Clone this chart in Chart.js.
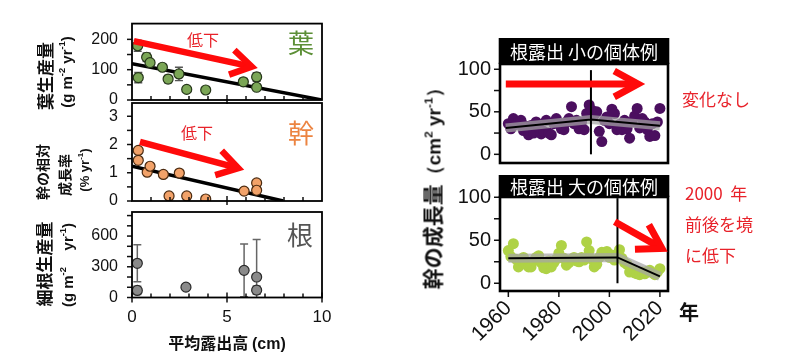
<!DOCTYPE html>
<html><head><meta charset="utf-8">
<script src="https://cdn.jsdelivr.net/npm/chart.js@4"></script>
<style>
body{margin:0;background:#fff;width:800px;height:356px;position:relative;overflow:hidden;font-family:"Liberation Sans",Arial,sans-serif;color:#111}
canvas{position:absolute;left:0;top:0}
.t{position:absolute;white-space:nowrap;transform:translate(0,-50%);color:#e8222a;font:17px "Noto Sans CJK JP";z-index:5}
.v{position:absolute;white-space:nowrap;transform:translate(-50%,-50%) rotate(-90deg);z-index:5;color:#111}
sup{font-size:62%;line-height:0;vertical-align:0.65em}
</style></head><body>
<div class="v" style="left:44px;top:76px;font:bold 17px 'Noto Sans CJK JP'">葉生産量</div>
<div class="v" style="left:66px;top:72px;font:bold 15px 'Liberation Sans'">(g m<sup>-2</sup> yr<sup>-1</sup>)</div>
<div class="v" style="left:42px;top:172px;font:bold 14px 'Noto Sans CJK JP'">幹の相対</div>
<div class="v" style="left:64px;top:175px;font:bold 14px 'Noto Sans CJK JP'">成長率</div>
<div class="v" style="left:84px;top:170px;font:bold 13px 'Liberation Sans'">(% yr<sup>-1</sup>)</div>
<div class="v" style="left:43px;top:264px;font:bold 17px 'Noto Sans CJK JP'">細根生産量</div>
<div class="v" style="left:67px;top:265px;font:bold 15px 'Liberation Sans'">(g m<sup>-2</sup>&nbsp;&nbsp;&nbsp;&nbsp;yr<sup>-1</sup>)</div>
<div style="position:absolute;left:227px;top:342px;transform:translate(-50%,-50%);font:bold 16px 'Noto Sans CJK JP';white-space:nowrap;z-index:5">平均露出高 <span style="font-family:'Liberation Sans'">(cm)</span></div>
<div class="v" style="left:432px;top:184px"><span style="font:bold 21px 'Noto Sans CJK JP'">幹の成長量</span><span style="font:bold 19px 'Liberation Sans'">（cm<sup>2</sup> yr<sup>-1</sup>）</span></div>
<div style="position:absolute;left:679px;top:311px;transform:translate(0,-50%);font:bold 20px 'Noto Sans CJK JP';z-index:5">年</div>
<div class="t" style="left:682px;top:98px">変化なし</div>
<div class="t" style="left:685px;top:192px">2000&nbsp;&nbsp;年</div>
<div class="t" style="left:685px;top:223px">前後を境</div>
<div class="t" style="left:685px;top:254px">に低下</div>
<script>
// ---------- data ----------
const leafX=[0.3,0.33,0.77,0.95,1.6,1.9,2.47,2.88,3.88,5.86,6.56,6.56];
const leafY=[179,74,141,123,108,69,86,35,33,60,76,42];
const leafErr=[18,17,14,6,8,12,22,0,0,11,14,5];
const leafFitX=[0,10];
const leafFitY=[120,0];
const trunkX=[0.33,0.33,0.8,0.95,1.65,1.95,2.49,2.88,3.88,5.9,6.56,6.56];
const trunkY=[1.79,1.44,1.02,1.23,0.94,0.18,0.99,0.18,0.07,0.35,0.64,0.38];
const trunkFitX=[0,7.96];
const trunkFitY=[1.23,0];
const rootX=[0.28,0.28,2.84,5.9,6.56,6.56];
const rootY=[334,69,101,265,200,72];
const rootErr=[180,40,0,258,366,40];
const leafTicks=[0,100,200];
const trunkTicks=[0,1,2,3];
const rootTicks=[0,300,600];
const heightTicks=[0,5,10];
const years=[1960,1961,1962,1963,1964,1965,1966,1967,1968,1969,
 1970,1971,1972,1973,1974,1975,1976,1977,1978,1979,
 1980,1981,1982,1983,1984,1985,1986,1987,1988,1989,
 1990,1991,1992,1993,1994,1995,1996,1997,1998,1999,
 2000,2001,2002,2003,2004,2005,2006,2007,2008,2009,
 2010,2011,2012,2013,2014,2015,2016,2017,2018,2019,2020];
const smallY=[36,30,42,35,38,40,28,33,23,34, 25,38,32,24,27,40,25,23,36,42,
 37,30,29,38,42,56,36,40,30,38, 29,48,58,52,46,50,27,15,40,44,
 36,53,48,29,35,29,40,30,19,38, 45,54,31,42,38,29,21,36,22,38, 54];
const largeY=[38,31,46,28,19,27,30,22,19,19, 26,30,32,24,18,17,26,19,24,28,
 35,44,29,21,24,28,30,26,25,30, 27,48,38,28,19,22,30,36,34,37,
 30,33,27,32,39,29,24,22,13,16, 12,11,10,13,11,14,15,12,10,13, 17];
const smallSegX=[1959,1992.7,2020];
const smallSegY=[31,41,33.6];
const smallBreak=1992.7;
const largeSegX=[1960,2003.2,2020];
const largeSegY=[29,30,8];
const largeBreak=2003.2;
const growthTicks=[0,50,100];
const yearTicks=[1960,1980,2000,2020];

// ---------- helpers ----------
const W=800,H=356;
const RED='#ff0a0a';
const decoPlugin={
  id:'deco',
  beforeDatasetsDraw(chart,args,o){
    const e=o.err; if(!e) return;
    const ctx=chart.ctx, xs=chart.scales.x, ys=chart.scales.y;
    ctx.save(); ctx.strokeStyle=e.color; ctx.lineWidth=e.lw;
    e.x.forEach((xv,i)=>{
      const d=e.e[i]; if(!d) return;
      const px=xs.getPixelForValue(xv);
      const lo=Math.max(0,e.y[i]-d);
      const p1=ys.getPixelForValue(lo), p2=ys.getPixelForValue(e.y[i]+d);
      ctx.beginPath(); ctx.moveTo(px,p1); ctx.lineTo(px,p2);
      ctx.moveTo(px-e.cap,p2); ctx.lineTo(px+e.cap,p2);
      if(e.y[i]-d>0){ctx.moveTo(px-e.cap,p1); ctx.lineTo(px+e.cap,p1);}
      ctx.stroke();
    });
    ctx.restore();
  },
  afterDraw(chart,args,o){
    const ctx=chart.ctx, a=chart.chartArea, xs=chart.scales.x, ys=chart.scales.y;
    ctx.save();
    ctx.strokeStyle='#111';
    (o.ticks||[]).forEach(t=>{
      ctx.lineWidth=t.lw||1.5;
      t.v.forEach(v=>{
        ctx.beginPath();
        if(t.axis==='y'){const py=ys.getPixelForValue(v); ctx.moveTo(a.left-(t.out||0),py); ctx.lineTo(a.left+(t.in||0),py);}
        else {const px=xs.getPixelForValue(v); ctx.moveTo(px,a.bottom+(t.out||0)); ctx.lineTo(px,a.bottom-(t.in||0));}
        ctx.stroke();
      });
    });
    ctx.lineWidth=o.frame; ctx.strokeStyle='#000';
    ctx.strokeRect(a.left,a.top,a.right-a.left,a.bottom-a.top);
    if(o.header){
      const h=o.header; ctx.fillStyle='#000';
      ctx.fillRect(a.left-o.frame/2,a.top-h.h,a.right-a.left+o.frame,h.h);
      ctx.fillStyle='#fff'; ctx.font=h.font; ctx.textAlign='center'; ctx.textBaseline='middle';
      ctx.fillText(h.text,(a.left+a.right)/2,a.top-h.h/2+1);
    }
    (o.arrows||[]).forEach(r=>{
      const x1=xs.getPixelForValue(r.x1), y1=ys.getPixelForValue(r.y1);
      const x2=xs.getPixelForValue(r.x2), y2=ys.getPixelForValue(r.y2);
      const ang=Math.atan2(y2-y1,x2-x1);
      ctx.strokeStyle=RED; ctx.lineWidth=r.w; ctx.lineCap='butt'; ctx.lineJoin='miter'; ctx.miterLimit=10;
      ctx.beginPath(); ctx.moveTo(x1,y1); ctx.lineTo(x2-Math.cos(ang)*r.w*0.6,y2-Math.sin(ang)*r.w*0.6); ctx.stroke();
      const a1=ang+Math.PI-r.ha, a2=ang+Math.PI+r.ha;
      ctx.beginPath();
      ctx.moveTo(x2+Math.cos(a1)*r.hl,y2+Math.sin(a1)*r.hl);
      ctx.lineTo(x2,y2);
      ctx.lineTo(x2+Math.cos(a2)*r.hl,y2+Math.sin(a2)*r.hl);
      ctx.stroke();
    });
    (o.texts||[]).forEach(t=>{
      ctx.fillStyle=t.color; ctx.font=t.font; ctx.textAlign='center'; ctx.textBaseline='middle';
      ctx.fillText(t.text,xs.getPixelForValue(t.x),ys.getPixelForValue(t.y));
    });
    ctx.restore();
  }
};
function pts(xa,ya){return xa.map((x,i)=>({x,y:ya[i]}));}
function mk(area,xs,ys,datasets,deco){
  const c=document.createElement('canvas');
  c.width=W;c.height=H;c.style.width=W+'px';c.style.height=H+'px';
  document.body.appendChild(c);
  const yw=area.l, xh=H-area.b;
  return new Chart(c,{
    type:'scatter',
    data:{datasets},
    options:{
      responsive:false,animation:false,devicePixelRatio:1,
      layout:{padding:{left:0,top:area.t,right:W-area.r,bottom:0}},
      plugins:{legend:{display:false},tooltip:{enabled:false},deco},
      scales:{
        x:Object.assign({type:'linear',position:'bottom',grid:{display:false,drawTicks:false},border:{display:false},afterFit(s){s.height=xh;}},xs),
        y:Object.assign({type:'linear',position:'left',grid:{display:false,drawTicks:false},border:{display:false},afterFit(s){s.width=yw;}},ys)
      }
    },
    plugins:[decoPlugin]
  });
}
function fixed(arr){return function(s){s.ticks=arr.map(v=>({value:v}));};}
const leftFont={family:"'Liberation Sans', Arial",size:16};
const noX={min:0,max:10,ticks:{display:false}};
const minorX=[1,2,3,4,6,7,8,9];
function lineDs(xa,ya,w,color,order){return {data:pts(xa,ya),showLine:true,pointRadius:0,borderColor:color,borderWidth:w,order};}

// ---------- leaf ----------
mk({l:132,t:17,r:322,b:100},noX,
 {min:0,max:252,afterBuildTicks:fixed(leafTicks),ticks:{font:leftFont,color:'#111',padding:14}},
 [lineDs(leafFitX,leafFitY,3.5,'#000',2),
  {data:pts(leafX,leafY),pointRadius:5,pointBackgroundColor:'#7ba656',pointBorderColor:'#26361a',pointBorderWidth:1.2,order:1}],
 {frame:1.8,
  err:{x:leafX,y:leafY,e:leafErr,color:'#555',lw:1.4,cap:4},
  ticks:[{axis:'y',v:[0,50,100,150,200],out:5},{axis:'x',v:minorX,in:4},{axis:'x',v:[5],in:5,out:4}],
  arrows:[{x1:0.1,y1:194,x2:6.3,y2:110,w:6.5,hl:24,ha:0.55}],
  texts:[{x:3.74,y:198,text:'低下',font:"16px 'Noto Sans CJK JP'",color:'#e8222a'},
         {x:8.9,y:189,text:'葉',font:"26px 'Noto Sans CJK JP'",color:'#5c8f36'}]});

// ---------- trunk ----------
mk({l:132,t:103,r:322,b:201},noX,
 {min:0,max:3.47,afterBuildTicks:fixed(trunkTicks),ticks:{font:leftFont,color:'#111',padding:14}},
 [lineDs(trunkFitX,trunkFitY,3.5,'#000',2),
  {data:pts(trunkX,trunkY),pointRadius:5,pointBackgroundColor:'#f2a269',pointBorderColor:'#4a2a10',pointBorderWidth:1.2,order:1}],
 {frame:1.8,
  ticks:[{axis:'y',v:[0,0.5,1,1.5,2,2.5,3],out:5},{axis:'x',v:minorX,in:4},{axis:'x',v:[5],in:5,out:4}],
  arrows:[{x1:0.42,y1:2.09,x2:5.59,y2:1.16,w:6.5,hl:24,ha:0.55}],
  texts:[{x:3.42,y:2.41,text:'低下',font:"16px 'Noto Sans CJK JP'",color:'#e8222a'},
         {x:8.9,y:2.41,text:'幹',font:"26px 'Noto Sans CJK JP'",color:'#ec8441'}]});

// ---------- root ----------
mk({l:132,t:212,r:322,b:297.5},
 {min:0,max:10,afterBuildTicks:fixed(heightTicks),ticks:{font:{family:"'Liberation Sans', Arial",size:17},color:'#111',padding:10,maxRotation:0,autoSkip:false}},
 {min:0,max:835,afterBuildTicks:fixed(rootTicks),ticks:{font:leftFont,color:'#111',padding:14}},
 [{data:pts(rootX,rootY),pointRadius:5,pointBackgroundColor:'#8a8a8a',pointBorderColor:'#2a2a2a',pointBorderWidth:1.2,order:1}],
 {frame:1.8,
  err:{x:rootX,y:rootY,e:rootErr,color:'#666',lw:1.5,cap:4},
  ticks:[{axis:'y',v:[0,100,200,300,400,500,600,700,800],out:5},{axis:'x',v:minorX,in:4},{axis:'x',v:[0,5,10],in:5,out:5}],
  texts:[{x:8.84,y:610,text:'根',font:"26px 'Noto Sans CJK JP'",color:'#555'}]});

// ---------- right: small exposure ----------
const rightFont={family:"'Liberation Sans', Arial",size:20};
mk({l:500,t:64,r:668,b:163},
 {min:1956.7,max:2023.2,ticks:{display:false}},
 {min:-10.2,max:106.2,afterBuildTicks:fixed(growthTicks),ticks:{font:rightFont,color:'#111',padding:9}},
 [{data:pts(years,smallY),pointRadius:5.5,pointBackgroundColor:'#4b0f5f',pointBorderWidth:0,order:4},
  lineDs(smallSegX,smallSegY,9,'rgba(165,165,165,0.72)',3),
  lineDs(smallSegX,smallSegY,2,'#000',2),
  lineDs([smallBreak,smallBreak],[0,99],2,'#000',1)],
 {frame:2.6,
  header:{h:26,text:'根露出 小の個体例',font:"18px 'Noto Sans CJK JP'"},
  ticks:[{axis:'y',v:[0,25,50,75,100],out:6}],
  arrows:[{x1:1959,y1:82.7,x2:2011.3,y2:82.7,w:7,hl:27,ha:0.5}]});

// ---------- right: large exposure ----------
mk({l:500,t:197,r:668,b:291},
 {min:1956.7,max:2023.2,afterBuildTicks:fixed(yearTicks),ticks:{font:{family:"'Liberation Sans', Arial",size:21},color:'#111',padding:5,minRotation:45,maxRotation:45,autoSkip:false,callback:v=>String(v)}},
 {min:-9,max:100.3,afterBuildTicks:fixed(growthTicks),ticks:{font:rightFont,color:'#111',padding:9}},
 [{data:pts(years,largeY),pointRadius:5.5,pointBackgroundColor:'#afd246',pointBorderWidth:0,order:4},
  lineDs(largeSegX,largeSegY,9,'rgba(165,165,165,0.72)',3),
  lineDs(largeSegX,largeSegY,2,'#000',2),
  lineDs([largeBreak,largeBreak],[0,99],2,'#000',1)],
 {frame:2.6,
  header:{h:22,text:'根露出 大の個体例',font:"18px 'Noto Sans CJK JP'"},
  ticks:[{axis:'y',v:[0,25,50,75,100],out:6},{axis:'x',v:yearTicks,out:6}],
  arrows:[{x1:2002.1,y1:71.6,x2:2020.8,y2:40.5,w:7,hl:27,ha:0.55}]});
</script>
</body></html>
